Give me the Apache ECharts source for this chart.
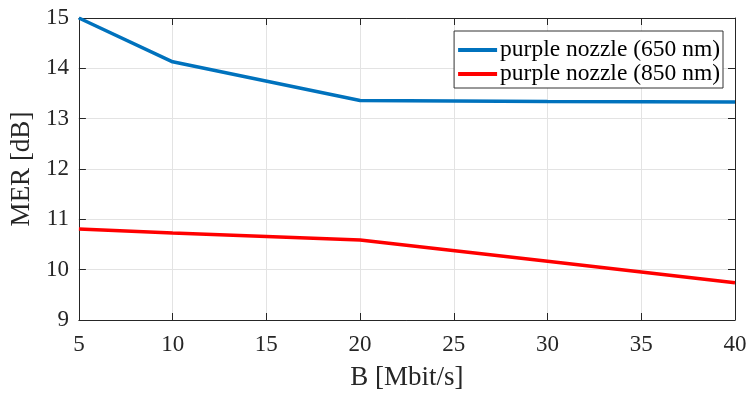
<!DOCTYPE html>
<html>
<head>
<meta charset="utf-8">
<script src="https://cdn.jsdelivr.net/npm/echarts@6/dist/echarts.min.js"></script>
<style>
  html, body { margin: 0; padding: 0; background: #fff; }
  #chart { width: 750px; height: 396px; }
</style>
</head>
<body>
<div id="chart"></div>
<script>
// Bit rate B [Mbit/s]
const bitRates = [5, 10, 20, 30, 40];
// MER [dB] per wavelength
const mer650 = [15.0, 14.13, 13.36, 13.34, 13.33];
const mer850 = [10.81, 10.73, 10.59, 10.165, 9.74];
const seriesNames = ['purple nozzle (650 nm)', 'purple nozzle (850 nm)'];

const font = 'Liberation Serif, Times New Roman, serif';
const axisColor = '#262626';
const gridColor = '#e3e3e3';

const toPairs = (ys) => bitRates.map((x, i) => [x, ys[i]]);

const chart = echarts.init(document.getElementById('chart'), null, { renderer: 'canvas' });

const baseX = {
  type: 'value', min: 5, max: 40, interval: 5,
  axisLine: { show: true, onZero: false, lineStyle: { color: axisColor, width: 1 } },
  axisTick: { show: true, inside: true, length: 7, lineStyle: { color: axisColor } },
  splitLine: { show: false }
};
const baseY = {
  type: 'value', min: 9, max: 15, interval: 1,
  axisLine: { show: true, onZero: false, lineStyle: { color: axisColor, width: 1 } },
  axisTick: { show: true, inside: true, length: 7, lineStyle: { color: axisColor } },
  splitLine: { show: false }
};

chart.setOption({
  animation: false,
  backgroundColor: '#fff',
  grid: { left: 77, right: 15, top: 18, bottom: 72, containLabel: false },
  xAxis: [
    Object.assign({}, baseX, {
      position: 'bottom',
      name: 'B [Mbit/s]', nameLocation: 'middle', nameGap: 44,
      nameTextStyle: { fontFamily: font, fontSize: 27, color: axisColor },
      axisLabel: { fontFamily: font, fontSize: 23, color: axisColor, margin: 13 },
      splitLine: { show: true, lineStyle: { color: gridColor, width: 1 } }
    }),
    Object.assign({}, baseX, { position: 'top', axisLabel: { show: false } })
  ],
  yAxis: [
    Object.assign({}, baseY, {
      position: 'left',
      name: 'MER [dB]', nameLocation: 'middle', nameGap: 36, nameRotate: 90,
      nameTextStyle: { fontFamily: font, fontSize: 27, color: axisColor },
      axisLabel: { fontFamily: font, fontSize: 23, color: axisColor, margin: 10 },
      splitLine: { show: true, lineStyle: { color: gridColor, width: 1 } }
    }),
    Object.assign({}, baseY, { position: 'right', axisLabel: { show: false } })
  ],
  legend: {
    orient: 'vertical',
    right: 27, top: 31,
    padding: [7, 3, 2, 4],
    itemGap: 0,
    itemWidth: 39, itemHeight: 4,
    icon: 'rect',
    backgroundColor: '#fff',
    borderColor: '#333',
    borderWidth: 1,
    borderRadius: 0,
    textStyle: { fontFamily: font, fontSize: 23.5, lineHeight: 24, color: '#000', padding: [0, 0, 0, -2] },
    data: seriesNames
  },
  series: [
    {
      name: seriesNames[0], type: 'line', data: toPairs(mer650),
      showSymbol: false, symbol: 'none',
      lineStyle: { color: '#0072BD', width: 3.5 }, itemStyle: { color: '#0072BD' }
    },
    {
      name: seriesNames[1], type: 'line', data: toPairs(mer850),
      showSymbol: false, symbol: 'none',
      lineStyle: { color: '#FF0000', width: 3.5 }, itemStyle: { color: '#FF0000' }
    }
  ]
});
</script>
</body>
</html>
